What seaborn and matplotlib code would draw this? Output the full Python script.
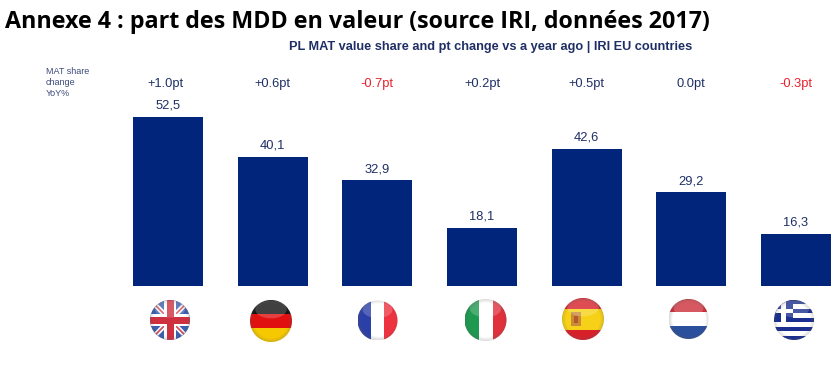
import matplotlib
matplotlib.use("Agg")
import matplotlib.pyplot as plt
from matplotlib.patches import Circle, Rectangle, Polygon, Ellipse
import numpy as np
import pandas as pd
import seaborn as sns

countries = ["UK", "DE", "FR", "IT", "ES", "NL", "GR"]
shares = [52.5, 40.1, 32.9, 18.1, 42.6, 29.2, 16.3]
share_labels = ["52,5", "40,1", "32,9", "18,1", "42,6", "29,2", "16,3"]
changes = ["+1.0pt", "+0.6pt", "-0.7pt", "+0.2pt", "+0.5pt", "0.0pt", "-0.3pt"]
title = "Annexe 4 : part des MDD en valeur (source IRI, données 2017)"
subtitle = "PL MAT value share and pt change vs a year ago | IRI EU countries"

navy = "#00257a"
W, H = 838, 368
base_y = 286
top_y = 117
first_x = 168
step_x = 104.67
flag_pos = [(170, 320, 20), (271, 321, 21), (377.5, 320.5, 20), (485.5, 320, 21),
            (583, 319, 21), (688.5, 319, 20), (794, 320, 20)]

df = pd.DataFrame({"country": countries, "share": shares})

sns.set_style("white")
plt.rcParams["font.family"] = ["Liberation Sans", "DejaVu Sans"]

fig = plt.figure(figsize=(W / 100, H / 100), dpi=100)
ax = fig.add_axes([0, 0, 1, 1])
sns.barplot(data=df, x="country", y="share", color=navy, saturation=1, width=0.668, linewidth=0, ax=ax)
ax.set_xlim(-first_x / step_x, (W - first_x) / step_x)
unit = (base_y - top_y) / shares[0]
ax.set_ylim((base_y - H) / unit, base_y / unit)
ax.axis("off")

# overlay in pixel coordinates for the texts and flags
ov = fig.add_axes([0, 0, 1, 1])
ov.set_xlim(0, W)
ov.set_ylim(H, 0)
ov.axis("off")
ov.patch.set_alpha(0)

ov.text(5, 22, title, fontsize=16.75, fontweight="bold", family="Open Sans", color="black",
        ha="left", va="center")
ov.text(490.5, 47, subtitle, fontsize=9.2, fontweight="bold", color="#1f2f66", ha="center", va="center")
for i, t in enumerate(["MAT share", "change", "YoY%"]):
    ov.text(46, 71.5 + i * 11, t, fontsize=6.5, color="#3c4a78", ha="left", va="center")

for i, (chg, lab) in enumerate(zip(changes, share_labels)):
    x = first_x + i * step_x
    col = "#e8202a" if chg.startswith("-") else "#1f2f66"
    ov.text(x - 3 if i == 0 else x, 83.5, chg, fontsize=9.3, color=col, ha="center", va="center")
    ov.text(x, base_y - shares[i] * unit - 11, lab, fontsize=9.3,
            color="#1f2f66", ha="center", va="center")


def stripes_h(cx, cy, r, cols, fracs=None):
    fracs = fracs or [1 / len(cols)] * len(cols)
    y = cy - r
    out = []
    for c, f in zip(cols, fracs):
        out.append(Rectangle((cx - r, y), 2 * r, f * 2 * r, fc=c, ec="none"))
        y += f * 2 * r
    return out


def stripes_v(cx, cy, r, cols):
    w = 2 * r / len(cols)
    return [Rectangle((cx - r + i * w, cy - r), w, 2 * r, fc=c, ec="none") for i, c in enumerate(cols)]


def flag_uk(cx, cy, r):
    out = [Rectangle((cx - r, cy - r), 2 * r, 2 * r, fc="#3d5fb0", ec="none")]
    for sx in (1, -1):
        out.append(Polygon([(cx - sx * r, cy - r + 3), (cx - sx * r + sx * 4, cy - r), (cx + sx * r, cy + r - 3),
                            (cx + sx * r - sx * 4, cy + r)], fc="white", ec="none"))
        out.append(Polygon([(cx - sx * r, cy - r + 1), (cx - sx * r + sx * 1.5, cy - r), (cx + sx * r, cy + r - 1),
                            (cx + sx * r - sx * 1.5, cy + r)], fc="#d0505c", ec="none"))
    out.append(Rectangle((cx - r, cy - 6), 2 * r, 12, fc="white", ec="none"))
    out.append(Rectangle((cx - 6, cy - r), 12, 2 * r, fc="white", ec="none"))
    out.append(Rectangle((cx - r, cy - 3.5), 2 * r, 7, fc="#cf3040", ec="none"))
    out.append(Rectangle((cx - 3.5, cy - r), 7, 2 * r, fc="#cf3040", ec="none"))
    return out


def flag_gr(cx, cy, r):
    out = stripes_h(cx, cy, r, ["#1a2f8f", "white"] * 4 + ["#1a2f8f"])
    out.append(Rectangle((cx - r, cy - r), r * 0.95, r * 1.1, fc="#1a2f8f", ec="none"))
    out.append(Rectangle((cx - r, cy - r + r * 0.44), r * 0.95, r * 0.22, fc="white", ec="none"))
    out.append(Rectangle((cx - r + r * 0.37, cy - r), r * 0.22, r * 1.1, fc="white", ec="none"))
    return out


def flag_es(cx, cy, r):
    out = stripes_h(cx, cy, r, ["#d8202a", "#f7d117", "#d8202a"], [0.25, 0.5, 0.25])
    out.append(Rectangle((cx - 12, cy - 7), 10, 14, fc="#c98a3a", ec="none"))
    out.append(Rectangle((cx - 9, cy - 3), 4, 7, fc="#b5582a", ec="none"))
    return out


flags = [
    flag_uk(*flag_pos[0]),
    stripes_h(*flag_pos[1], ["#111111", "#e01010", "#f5c800"]),
    stripes_v(*flag_pos[2], ["#2b3fa8", "white", "#ee3340"]),
    stripes_v(*flag_pos[3], ["#1d9a50", "white", "#e0303c"]),
    flag_es(*flag_pos[4]),
    stripes_h(*flag_pos[5], ["#cc2f3a", "white", "#2a4f9c"]),
    flag_gr(*flag_pos[6]),
]

# soft sphere shading over each flag
n = 120
yy, xx = np.mgrid[-1:1:n * 1j, -1:1:n * 1j]
rad = np.sqrt(xx ** 2 + yy ** 2)
shade = np.zeros((n, n, 4))
shade[..., :3] = 0.35
shade[..., 3] = np.clip((rad - 0.82) / 0.18, 0, 1) * 0.22

for (cx, cy, r), parts in zip(flag_pos, flags):
    clip = Circle((cx, cy), r, transform=ov.transData)
    for p in parts:
        ov.add_patch(p)
        p.set_clip_path(clip)
    gloss = Ellipse((cx, cy - r * 0.55), r * 1.5, r * 0.85, fc="white", ec="none", alpha=0.2)
    ov.add_patch(gloss)
    gloss.set_clip_path(clip)
    im = ov.imshow(shade, extent=(cx - r, cx + r, cy + r, cy - r), zorder=3, interpolation="bilinear")
    im.set_clip_path(clip)

ov.set_xlim(0, W)
ov.set_ylim(H, 0)
ov.set_aspect("auto")

fig.savefig("out.png", dpi=100, facecolor="white")
